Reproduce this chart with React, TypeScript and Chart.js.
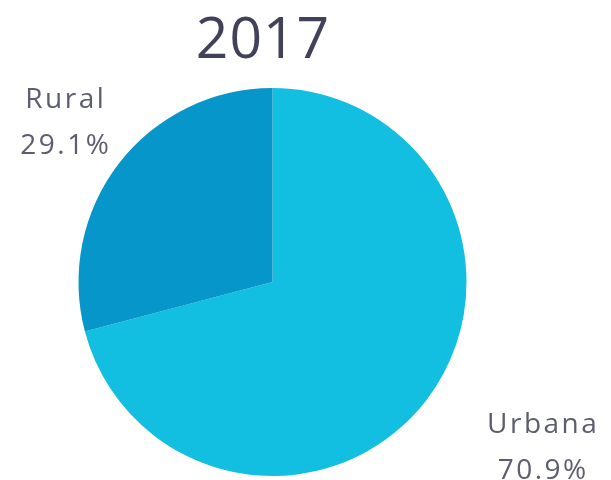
import React, { useEffect, useRef } from "react";
import { Chart, registerables } from "chart.js";

Chart.register(...registerables);

const titleText = "2017";
const categories = ["Urbana", "Rural"];
const values = [70.9, 29.1];
const colors = ["#12bfe0", "#0796c9"];
// label offsets from the outer mid-point of each slice (px)
const labelOffsets = [
  [116, 33],
  [-54, -56],
];

const labelPlugin = {
  id: "pieLabels",
  afterDraw(chart: any) {
    const ctx = chart.ctx;
    const meta = chart.getDatasetMeta(0);
    ctx.save();
    ctx.fillStyle = "#41425a";
    ctx.font = "500 57px 'Open Sans'";
    ctx.textAlign = "center";
    ctx.textBaseline = "alphabetic";
    (ctx as any).letterSpacing = "1px";
    ctx.fillText(titleText, 263, 58);
    ctx.font = "500 28px 'Open Sans'";
    (ctx as any).letterSpacing = "2.5px";
    ctx.fillStyle = "#5c5d6e";
    const total = values.reduce((a, b) => a + b, 0);
    meta.data.forEach((arc: any, i: number) => {
      const mid = (arc.startAngle + arc.endAngle) / 2;
      const x = arc.x + Math.cos(mid) * arc.outerRadius + labelOffsets[i][0];
      const y = arc.y + Math.sin(mid) * arc.outerRadius + labelOffsets[i][1];
      const pct = ((values[i] / total) * 100).toFixed(1) + "%";
      ctx.fillText(categories[i], x + 1, y);
      ctx.fillText(pct, x + 1, y + 46);
    });
    ctx.restore();
  },
};

export default function App() {
  const ref = useRef<HTMLCanvasElement>(null);
  useEffect(() => {
    if (!ref.current) return;
    const chart = new Chart(ref.current, {
      type: "pie",
      data: {
        labels: categories,
        datasets: [
          {
            data: values,
            backgroundColor: colors,
            borderWidth: 0,
          },
        ],
      },
      options: {
        animation: false,
        responsive: false,
        maintainAspectRatio: false,
        layout: { padding: { left: 78, right: 144, top: 88, bottom: 4 } },
        plugins: {
          legend: { display: false },
          tooltip: { enabled: false },
          title: { display: false },
        },
      },
      plugins: [labelPlugin],
    });
    return () => chart.destroy();
  }, []);
  return (
    <div style={{ position: "absolute", left: 0, top: 0, width: 611, height: 480, background: "#fff" }}>
      <canvas ref={ref} width={611} height={480} style={{ display: "block" }} />
    </div>
  );
}
